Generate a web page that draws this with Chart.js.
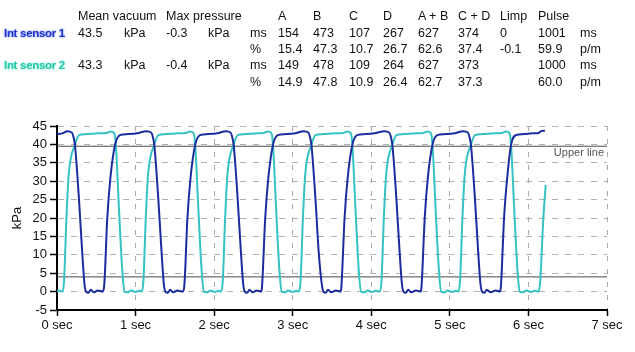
<!DOCTYPE html>
<html>
<head>
<meta charset="utf-8">
<script src="https://cdn.jsdelivr.net/npm/chart.js@4"></script>
<style>
  body { margin: 0; background: #fff; }
  #wrap { position: relative; width: 635px; height: 352px; }
  #head { position: absolute; left: 0; top: 0; width: 635px; height: 100px;
          font-family: "Liberation Sans", Arial, sans-serif; font-size: 12.5px; color: #111; }
  #head span { position: absolute; white-space: nowrap; line-height: 14px; }
  #head .s1 { font-weight: bold; color: #2233cc; font-size: 11.5px; letter-spacing: -0.3px;
              text-shadow: 0 0 2px #8fa0ff, 0 0 3px #b8c4ff; }
  #head .s2 { font-weight: bold; color: #1fc8a8; font-size: 11.5px; letter-spacing: -0.3px;
              text-shadow: 0 0 2px #9ff0dc, 0 0 3px #c8f8ec; }
  #box { position: absolute; left: 0; top: 0; width: 635px; height: 352px; }
</style>
</head>
<body>
<div id="wrap">
  <div id="box"><canvas id="kpaChart"></canvas></div>
  <div id="head"></div>
</div>
<script>
// header table values
var columnHeads = ["Mean vacuum", "Max pressure", "A", "B", "C", "D", "A + B", "C + D", "Limp", "Pulse"];
var sensorNames = ["Int sensor 1", "Int sensor 2"];
var meanVacuum = ["43.5", "43.3"];
var maxPressure = ["-0.3", "-0.4"];
var msRow1 = ["154", "473", "107", "267", "627", "374", "0", "1001"];
var pctRow1 = ["15.4", "47.3", "10.7", "26.7", "62.6", "37.4", "-0.1", "59.9"];
var msRow2 = ["149", "478", "109", "264", "627", "373", "", "1000"];
var pctRow2 = ["14.9", "47.8", "10.9", "26.4", "62.7", "37.3", "", "60.0"];

// axis ticks
var xTicks = [0, 1, 2, 3, 4, 5, 6, 7];
var yTicks = [-5, 0, 5, 10, 15, 20, 25, 30, 35, 40, 45];

// guide lines (kPa)
var upperLine = 39.5;
var lowerLine = 4;

// traces: [seconds, kPa]
var sensor1 = [
  [0, 42.8], [0.07, 43.0], [0.13, 43.6], [0.19, 43.2], [0.21, 42], [0.23, 39.5], [0.28, 25], [0.32, 11], [0.35, 2], [0.37, 0],
  [0.40, -0.3], [0.43, 0.5], [0.47, -0.2], [0.52, 0.3], [0.58, 0], [0.60, 1.5], [0.64, 20], [0.68, 31], [0.74, 40], [0.80, 42.5],
  [0.90, 42.8], [1.02, 43.0],
  [1.14, 43.6], [1.20, 43.2], [1.22, 42], [1.24, 39.5], [1.29, 25], [1.33, 11], [1.36, 2], [1.38, 0], [1.41, -0.3], [1.44, 0.5],
  [1.48, -0.2], [1.53, 0.3], [1.60, 0], [1.62, 1.5], [1.66, 20], [1.70, 31], [1.76, 40], [1.82, 42.5], [1.92, 42.8], [2.04, 43.0],
  [2.15, 43.6], [2.21, 43.2], [2.23, 42], [2.25, 39.5], [2.30, 25], [2.34, 11], [2.37, 2], [2.39, 0], [2.42, -0.3], [2.45, 0.5],
  [2.49, -0.2], [2.54, 0.3], [2.60, 0], [2.61, 1.5], [2.65, 20], [2.69, 31], [2.75, 40], [2.81, 42.5], [2.91, 42.8], [3.03, 43.0],
  [3.14, 43.6], [3.20, 43.2], [3.22, 42], [3.24, 39.5], [3.29, 25], [3.33, 11], [3.37, 2], [3.39, 0], [3.42, -0.3], [3.45, 0.5],
  [3.49, -0.2], [3.55, 0.3], [3.61, 0], [3.62, 1.5], [3.66, 20], [3.70, 31], [3.76, 40], [3.82, 42.5], [3.92, 42.8], [4.04, 43.0],
  [4.17, 43.6], [4.23, 43.2], [4.25, 42], [4.27, 39.5], [4.32, 25], [4.36, 11], [4.39, 2], [4.41, 0], [4.44, -0.3], [4.47, 0.5],
  [4.51, -0.2], [4.57, 0.3], [4.63, 0], [4.64, 1.5], [4.68, 20], [4.72, 31], [4.78, 40], [4.84, 42.5], [4.94, 42.8], [5.06, 43.0],
  [5.17, 43.6], [5.23, 43.2], [5.25, 42], [5.27, 39.5], [5.32, 25], [5.36, 11], [5.39, 2], [5.41, 0], [5.44, -0.3], [5.47, 0.5],
  [5.52, -0.2], [5.58, 0.3], [5.64, 0], [5.65, 1.5], [5.69, 20], [5.73, 31], [5.78, 40], [5.84, 42.5], [5.94, 42.8], [6.06, 43.0],
  [6.12, 43.0], [6.16, 43.6], [6.21, 43.7]
];

var sensor2 = [
  [0, 0], [0.03, 0.3], [0.07, 0], [0.09, 3], [0.12, 20], [0.15, 32], [0.23, 40], [0.28, 42.5], [0.37, 42.8], [0.53, 43.0],
  [0.63, 43.1], [0.68, 43.5], [0.73, 43], [0.75, 39.5], [0.79, 22], [0.83, 6], [0.86, 0], [0.90, -0.2], [0.94, 0.3], [1.00, -0.1],
  [1.05, 0.2], [1.08, 0],
  [1.10, 3], [1.13, 20], [1.16, 32], [1.24, 40], [1.29, 42.5], [1.38, 42.8], [1.54, 43.0], [1.64, 43.1], [1.69, 43.5], [1.74, 43],
  [1.76, 39.5], [1.80, 22], [1.84, 6], [1.87, 0], [1.91, -0.2], [1.95, 0.3], [2.01, -0.1], [2.06, 0.2], [2.09, 0],
  [2.11, 3], [2.14, 20], [2.17, 32], [2.25, 40], [2.30, 42.5], [2.39, 42.8], [2.55, 43.0], [2.63, 43.1], [2.68, 43.5], [2.73, 43],
  [2.75, 39.5], [2.79, 22], [2.83, 6], [2.86, 0], [2.90, -0.2], [2.94, 0.3], [3.00, -0.1], [3.05, 0.2], [3.08, 0],
  [3.10, 3], [3.13, 20], [3.16, 32], [3.24, 40], [3.29, 42.5], [3.38, 42.8], [3.54, 43.0], [3.64, 43.1], [3.69, 43.5], [3.74, 43],
  [3.76, 39.5], [3.80, 22], [3.84, 6], [3.87, 0], [3.91, -0.2], [3.95, 0.3], [4.01, -0.1], [4.06, 0.2], [4.11, 0],
  [4.13, 3], [4.16, 20], [4.19, 32], [4.27, 40], [4.32, 42.5], [4.41, 42.8], [4.57, 43.0], [4.66, 43.1], [4.71, 43.5], [4.76, 43],
  [4.78, 39.5], [4.82, 22], [4.86, 6], [4.89, 0], [4.93, -0.2], [4.97, 0.3], [5.03, -0.1], [5.08, 0.2], [5.11, 0],
  [5.13, 3], [5.16, 20], [5.19, 32], [5.27, 40], [5.32, 42.5], [5.41, 42.8], [5.57, 43.0], [5.66, 43.1], [5.71, 43.5], [5.76, 43],
  [5.78, 39.5], [5.82, 22], [5.86, 6], [5.89, 0], [5.93, -0.2], [5.97, 0.3], [6.03, -0.1], [6.08, 0.2], [6.13, 0],
  [6.15, 3], [6.19, 20], [6.22, 29]
];

// ---- header table ----
var head = document.getElementById("head");
var colX = [78, 166, 278, 313, 349, 383, 418, 458, 500, 538];
var rowY = [9, 26, 42, 58, 75];

function put(text, x, y, cls) {
  var s = document.createElement("span");
  s.textContent = text;
  s.style.left = x + "px";
  s.style.top = y + "px";
  if (cls) s.className = cls;
  head.appendChild(s);
}

columnHeads.forEach(function(t, i) { put(t, colX[i], rowY[0]); });

function sensorRows(idx, msVals, pctVals, r) {
  put(sensorNames[idx], 4, rowY[r], idx === 0 ? "s1" : "s2");
  put(meanVacuum[idx], 78, rowY[r]);
  put("kPa", 124, rowY[r]);
  put(maxPressure[idx], 166, rowY[r]);
  put("kPa", 208, rowY[r]);
  put("ms", 250, rowY[r]);
  put("%", 250, rowY[r + 1]);
  msVals.forEach(function(v, i) { if (v !== "") put(v, colX[i + 2], rowY[r]); });
  pctVals.forEach(function(v, i) { if (v !== "") put(v, colX[i + 2], rowY[r + 1]); });
  put("ms", 580, rowY[r]);
  put("p/m", 580, rowY[r + 1]);
}
sensorRows(0, msRow1, pctRow1, 1);
sensorRows(1, msRow2, pctRow2, 3);

// ---- chart ----
function toPoints(arr) {
  return arr.map(function(p) { return { x: p[0], y: p[1] }; });
}

var guideLabel = {
  id: "guideLabel",
  afterDatasetsDraw: function(chart) {
    var ctx = chart.ctx;
    var x = chart.scales.x.getPixelForValue(xTicks[xTicks.length - 1]);
    var y = chart.scales.y.getPixelForValue(upperLine);
    ctx.save();
    ctx.font = "11px 'Liberation Sans', Arial, sans-serif";
    ctx.fillStyle = "#555";
    ctx.textAlign = "right";
    ctx.textBaseline = "middle";
    ctx.fillText("Upper line", x - 3, y + 7);
    ctx.restore();
  }
};

var ctx = document.getElementById("kpaChart").getContext("2d");
var kpaChart = new Chart(ctx, {
  type: "line",
  data: {
    datasets: [
      {
        label: "Int sensor 1",
        data: toPoints(sensor1),
        borderColor: "#1b2c9e",
        borderWidth: 2,
        pointRadius: 0,
        cubicInterpolationMode: "monotone",
        order: 0
      },
      {
        label: "Int sensor 2",
        data: toPoints(sensor2),
        borderColor: "#36c2c2",
        borderWidth: 2,
        pointRadius: 0,
        cubicInterpolationMode: "monotone",
        order: 1
      },
      {
        label: "Upper line",
        data: [{ x: xTicks[0], y: upperLine }, { x: xTicks[xTicks.length - 1], y: upperLine }],
        borderColor: "#4a4a4a",
        borderWidth: 1,
        pointRadius: 0,
        order: 2
      },
      {
        label: "Lower line",
        data: [{ x: xTicks[0], y: lowerLine }, { x: xTicks[xTicks.length - 1], y: lowerLine }],
        borderColor: "#4a4a4a",
        borderWidth: 1,
        pointRadius: 0,
        order: 2
      }
    ]
  },
  options: {
    responsive: true,
    maintainAspectRatio: false,
    animation: false,
    layout: { padding: { top: 126, right: 28, bottom: 0, left: 6 } },
    plugins: { legend: { display: false }, tooltip: { enabled: false } },
    scales: {
      x: {
        type: "linear",
        min: xTicks[0],
        max: xTicks[xTicks.length - 1],
        afterFit: function(s) { s.height = 42; },
        afterBuildTicks: function(s) { s.ticks = xTicks.map(function(v) { return { value: v }; }); },
        ticks: {
          autoSkip: false,
          maxRotation: 0,
          padding: 2,
          color: "#111",
          font: { family: "'Liberation Sans', Arial, sans-serif", size: 13 },
          callback: function(v) { return v + " sec"; }
        },
        grid: { color: "#a8a8a8", tickColor: "#000", tickLength: 6, tickBorderDash: [], tickWidth: 1.5 },
        border: { display: true, color: "#000", width: 2, dash: [5, 8] }
      },
      y: {
        min: yTicks[0],
        max: yTicks[yTicks.length - 1],
        afterFit: function(s) { s.width = 51; },
        afterBuildTicks: function(s) { s.ticks = yTicks.map(function(v) { return { value: v }; }); },
        title: { display: true, text: "kPa", color: "#111",
                 font: { family: "'Liberation Sans', Arial, sans-serif", size: 13 } },
        ticks: {
          autoSkip: false,
          padding: 3,
          color: "#111",
          font: { family: "'Liberation Sans', Arial, sans-serif", size: 13 }
        },
        grid: { color: "#b0b0b0", tickColor: "#000", tickLength: 7, tickBorderDash: [], tickWidth: 1.5 },
        border: { display: true, color: "#000", width: 2, dash: [6, 7] }
      }
    }
  },
  plugins: [guideLabel]
});
</script>
</body>
</html>
